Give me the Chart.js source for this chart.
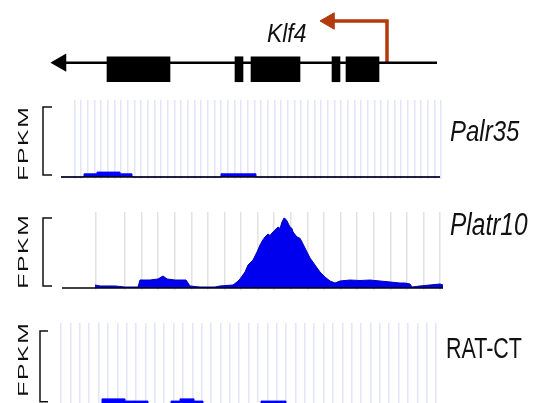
<!DOCTYPE html>
<html>
<head>
<meta charset="utf-8">
<script src="https://cdn.jsdelivr.net/npm/chart.js@4.4.1/dist/chart.umd.min.js"></script>
<style>
  html, body { margin:0; padding:0; background:#fff; width:536px; height:403px; overflow:hidden; }
  body { position:relative; font-family: Arial, "Liberation Sans", sans-serif; }
  canvas { position:absolute; left:0; }
  .lbl { position:absolute; white-space:nowrap; color:#111; line-height:1; transform-origin:0 0; }
  .fpkm { position:absolute; white-space:nowrap; color:#111; line-height:1; font-size:15.5px;
          transform: translate(-50%,-50%) rotate(-90deg); }
  .fpkm span { display:inline-block; letter-spacing:1px; padding-left:1px; transform: scaleX(1.6); }
</style>
</head>
<body>
<canvas id="gene" width="536" height="94"></canvas>
<canvas id="palr" width="536" height="79"></canvas>
<canvas id="platr" width="536" height="78"></canvas>
<canvas id="rat" width="536" height="83"></canvas>

<div class="lbl" style="left:267px;top:20px;font-size:26px;font-style:italic;transform:scaleX(0.88)">Klf4</div>
<div class="lbl" style="left:450px;top:116px;font-size:30px;font-style:italic;transform:scaleX(0.8)">Palr35</div>
<div class="lbl" style="left:450px;top:209px;font-size:31px;font-style:italic;transform:scaleX(0.79)">Platr10</div>
<div class="lbl" style="left:446px;top:334px;font-size:29px;transform:scaleX(0.74)">RAT-CT</div>
<div class="fpkm" style="left:22.5px;top:144px"><span>FPKM</span></div>
<div class="fpkm" style="left:22.5px;top:252px"><span>FPKM</span></div>
<div class="fpkm" style="left:22.5px;top:360px"><span>FPKM</span></div>

<script>
// shared locus axis for all tracks (position units)
const locusMin = 0, locusMax = 536;

// Klf4 gene model (minus strand)
const geneSpan = [61, 437];
const exons = [[107,170],[235,243],[251,300],[332,340],[346,379]];
const tssPos = 387, tssEnd = 329.5, tssHeight = 1.33, exonLevel = -0.21;

// Palr35 coverage (step)
const palrPos  = [61, 84, 97, 120, 132, 221, 256, 440];
const palrFpkm = [0, 0.45, 0.7, 0.45, 0, 0.45, 0, 0];

// Platr10 coverage
const platrPos  = [95,100,115,125,138,140,150,158,163,167,175,186,190,200,215,220,233,237,240,245,248,253,257,260,263,265,268,270,272,275,278,280,282,284,286,287,290,292,293,297,300,302,306,310,315,320,325,330,335,340,350,360,370,380,390,400,405,410,412,416,420,430,440,443];
const platrFpkm = [0.43,0.29,0.29,0.14,0.14,1.14,1.14,1.29,1.71,1.29,1.14,1.14,0.29,0.14,0.14,0.29,0.43,0.86,1.29,2.29,3.29,4.0,5.14,6.14,6.9,7.29,7.71,7.5,7.86,8.29,8.71,8.5,9.43,10.0,9.8,9.57,8.71,8.5,8.0,7.29,7.1,6.57,5.43,4.29,3.29,2.29,1.57,1.0,0.71,1.0,1.14,1.07,1.14,1.0,0.86,0.71,0.71,0.57,0.14,0.21,0.29,0.43,0.57,0.43];

// RAT-CT coverage (step)
const ratPos  = [61, 102, 125, 148, 171, 180, 194, 203, 261, 286, 436];
const ratFpkm = [0, 0.7, 0.4, 0, 0.4, 0.7, 0.4, 0, 0.4, 0, 0];

// FPKM scale bracket
const bracketFpkm = [0.3, 10];

// vertical guide lines
function ticksFrom(start, step, n){ const t=[]; for(let i=0;i<n;i++) t.push(start+i*step); return t; }
const palrGrid  = ticksFrom(74.3, 6.67, 56);
const platrGrid = [96].concat(ticksFrom(125, 16.58, 20));
const ratGrid   = ticksFrom(61, 9.375, 41);

const blue = '#0000ff';
const rust = '#b33a0c';

const baseOpts = {
  responsive:false, animation:false, events:[],
  layout:{ padding:0, autoPadding:false },
  plugins:{ legend:{display:false}, tooltip:{enabled:false} }
};

function track(id, cfg){
  const cv = document.getElementById(id);
  cv.style.top = cfg.top + 'px';
  const h = cv.height, basePx = cfg.base - cfg.top;
  const yMax = basePx / cfg.ppu, yMin = -(h - basePx) / cfg.ppu;
  const pts = cfg.pos.map((x,i)=>({x, y:cfg.fpkm[i]}));
  return new Chart(cv, {
    type:'scatter',
    data:{ datasets:[
      { type:'line', data:[{x:cfg.line[0],y:0},{x:cfg.line[1],y:0}], borderColor:'#000', borderWidth:1.5, pointRadius:0, order:0, clip:false },
      { type:'line', data:[{x:cfg.bx[1],y:bracketFpkm[1]},{x:cfg.bx[0],y:bracketFpkm[1]},{x:cfg.bx[0],y:bracketFpkm[0]},{x:cfg.bx[1],y:bracketFpkm[0]}],
        borderColor:'#111', borderWidth:1.5, pointRadius:0, borderJoinStyle:'miter', order:0, clip:false },
      { type:'line', data:pts, stepped:cfg.stepped, fill:'origin', backgroundColor:cfg.fill, borderColor:cfg.edge,
        borderWidth:1, pointRadius:0, tension:0, order:1 }
    ]},
    options:Object.assign({}, baseOpts, {
      scales:{
        x:{ type:'linear', min:locusMin, max:locusMax, display:true,
            grid:{ color:cfg.gridColor, lineWidth:cfg.gridWidth, drawTicks:false },
            border:{display:false}, ticks:{display:false},
            afterBuildTicks: s => { s.ticks = cfg.grid.map(v=>({value:v})); } },
        y:{ type:'linear', min:yMin, max:yMax, display:false, offset:false }
      }
    })
  });
}

// gene track
(function(){
  const cv = document.getElementById('gene');
  cv.style.top = '0px';
  new Chart(cv, {
    type:'scatter',
    data:{ datasets:[
      { type:'line', data:[{x:tssPos,y:0},{x:tssPos,y:tssHeight},{x:tssEnd,y:tssHeight}],
        borderColor:rust, borderWidth:3.5, borderJoinStyle:'miter', borderCapStyle:'butt',
        pointRadius:[0,0,9.5], pointStyle:'triangle', pointRotation:270,
        pointBackgroundColor:rust, pointBorderColor:rust, pointBorderWidth:1, order:2, clip:false },
      { type:'line', data:[{x:geneSpan[0],y:0},{x:geneSpan[1],y:0}], borderColor:'#000', borderWidth:2.5,
        pointRadius:[8,0], pointStyle:'triangle', pointRotation:270, pointBackgroundColor:'#000',
        pointBorderColor:'#000', order:1, clip:false },
      { type:'bar', indexAxis:'y', data:exons.map(e=>({x:e, y:exonLevel})), backgroundColor:'#000',
        borderWidth:0, barThickness:25, order:0 }
    ]},
    options:Object.assign({}, baseOpts, {
      scales:{
        x:{ type:'linear', min:locusMin, max:locusMax, display:false },
        y:{ type:'linear', min:-1, max:2, display:false, offset:false }
      }
    })
  });
})();

track('palr', { top:100, base:177, ppu:7, pos:palrPos, fpkm:palrFpkm, stepped:true, fill:blue, edge:blue,
  line:[61,440], bx:[43,52], grid:palrGrid, gridColor:'#e4e4fa', gridWidth:1.5 });
track('platr', { top:212, base:288, ppu:7, pos:platrPos, fpkm:platrFpkm, stepped:false, fill:'#0000ee', edge:'#0000b8',
  line:[62,443], bx:[43,52], grid:platrGrid, gridColor:'#e2e2e2', gridWidth:1.5 });
track('rat', { top:323, base:404, ppu:7.3, pos:ratPos, fpkm:ratFpkm, stepped:true, fill:blue, edge:blue,
  line:[61,436], bx:[40,48], grid:ratGrid, gridColor:'#e4e4fa', gridWidth:1.5 });
</script>
</body>
</html>
